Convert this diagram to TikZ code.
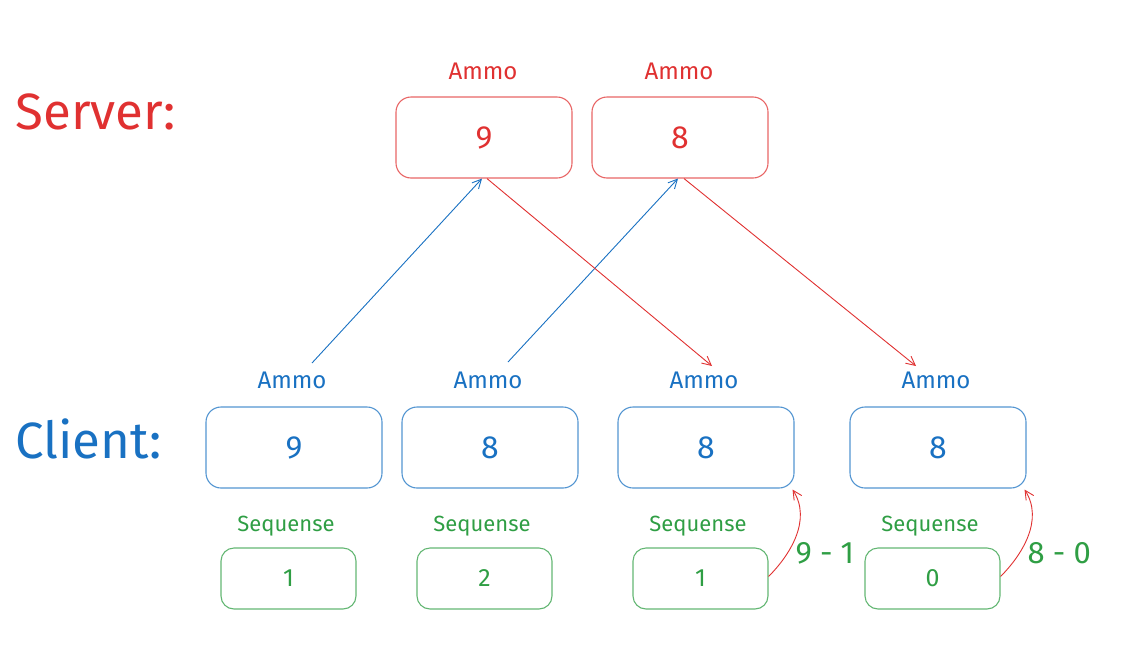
\documentclass[tikz,border=0pt]{standalone}
\usepackage{fontspec}
\setmainfont{Fira Sans}
\usetikzlibrary{arrows.meta}
\definecolor{xred}{HTML}{E03131}
\definecolor{xblue}{HTML}{1971C2}
\definecolor{xgreen}{HTML}{2F9E44}
\begin{document}
\begin{tikzpicture}[x=1pt,y=-1pt,
  box/.style={draw, draw opacity=0.75, rounded corners=15pt, line width=1.1pt, minimum width=176pt, minimum height=81pt, inner sep=0pt, font=\fontsize{32}{36}\selectfont},
  seqbox/.style={draw, draw opacity=0.75, rounded corners=13pt, line width=1.1pt, minimum width=135pt, minimum height=61pt, inner sep=0pt, text=xgreen, font=\fontsize{25}{28}\selectfont, color=xgreen},
  lbl/.style={font=\fontsize{24}{27}\selectfont},
  seql/.style={text=xgreen, font=\fontsize{22}{25}\selectfont},
  big/.style={font=\fontsize{51}{55}\selectfont, anchor=west},
  arr/.style={-{Straight Barb[length=9pt,width=9pt]}, line width=0.9pt},
  diff/.style={text=xgreen, font=\fontsize{31}{34}\selectfont, anchor=west},
]
\useasboundingbox (0,0) rectangle (1122,651);
% headings
\node[big, text=xred] (srv) at (12,112) {Server:};
\node[big, text=xblue] (cli) at (12,439) {Client:};
% server
\node[box, draw=xred, text=xred] (s1) at (484,137.5) {9};
\node[box, draw=xred, text=xred] (s2) at (680,137.5) {8};
\node[lbl, text=xred] (sl1) at (483,71) {Ammo};
\node[lbl, text=xred] (sl2) at (679,71) {Ammo};
% client
\node[box, draw=xblue, text=xblue] (c1) at (294,447.5) {9};
\node[box, draw=xblue, text=xblue] (c2) at (490,447.5) {8};
\node[box, draw=xblue, text=xblue] (c3) at (706,447.5) {8};
\node[box, draw=xblue, text=xblue] (c4) at (938,447.5) {8};
\node[lbl, text=xblue] (cl1) at (292,380) {Ammo};
\node[lbl, text=xblue] (cl2) at (488,380) {Ammo};
\node[lbl, text=xblue] (cl3) at (704,380) {Ammo};
\node[lbl, text=xblue] (cl4) at (936,380) {Ammo};
% sequence
\node[seqbox] (q1) at (288.5,578.5) {1};
\node[seqbox] (q2) at (484.5,578.5) {2};
\node[seqbox] (q3) at (700.5,578.5) {1};
\node[seqbox] (q4) at (932.5,578.5) {0};
\node[seql] (ql1) at (286,526) {Sequense};
\node[seql] (ql2) at (482,526) {Sequense};
\node[seql] (ql3) at (698,526) {Sequense};
\node[seql] (ql4) at (930,526) {Sequense};
% connector free ends
\coordinate (b1) at (312,363);
\coordinate (b2) at (508,362);
\coordinate (r1) at (712,366);
\coordinate (r2) at (916,366);
% connectors
\draw[arr, xblue] (b1) -- ([xshift=-2pt]s1.south);
\draw[arr, xblue] (b2) -- ([xshift=-2pt]s2.south);
\draw[arr, xred] ([xshift=3pt]s1.south) -- (r1);
\draw[arr, xred] ([xshift=4pt]s2.south) -- (r2);
\draw[arr, xred] ([yshift=2pt]q3.east) .. controls (790,555) and (812,520) .. ([xshift=-2pt,yshift=-1pt]c3.south east);
\draw[arr, xred] ([yshift=2pt]q4.east) .. controls (1022,555) and (1044,520) .. ([xshift=-2pt,yshift=-1pt]c4.south east);
\node[diff] (m1) at (792,553) {9 - 1};
\node[diff] (m2) at (1024,553) {8 - 0};
\end{tikzpicture}
\end{document}
